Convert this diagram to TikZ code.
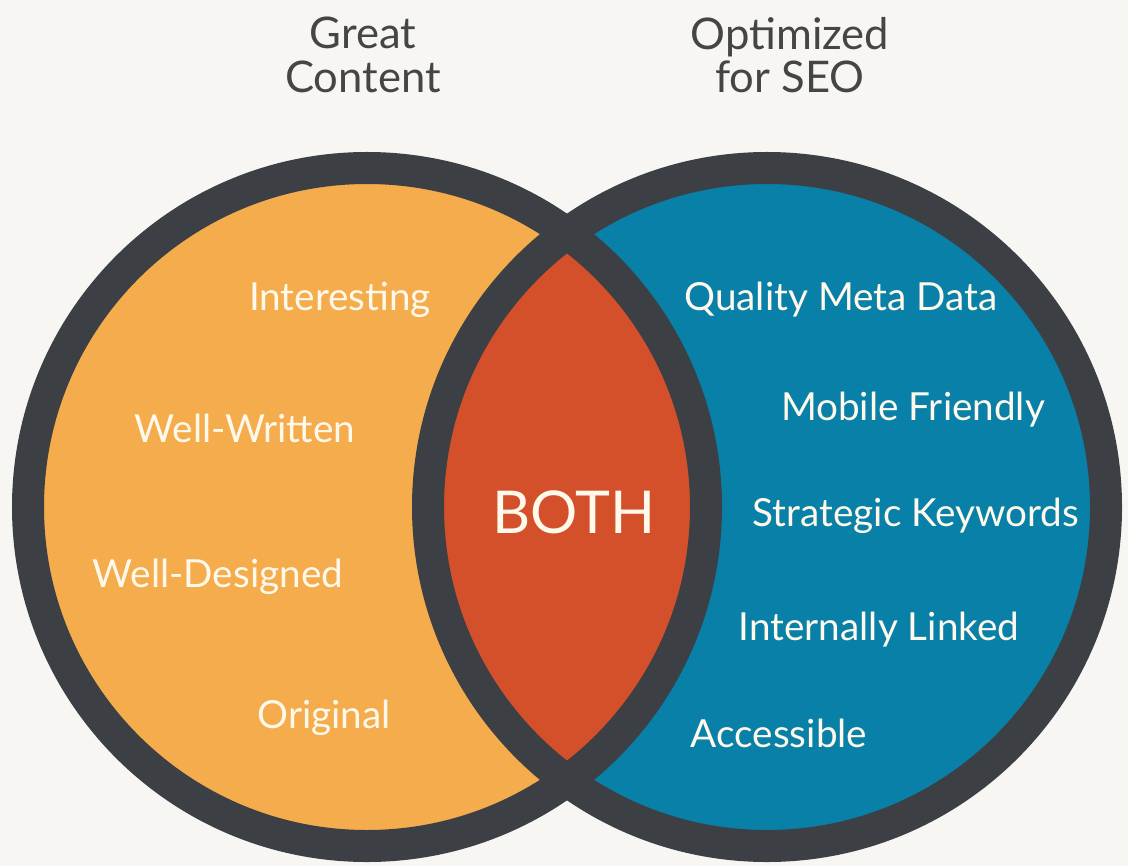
\documentclass[tikz,border=0pt]{standalone}
\usepackage{fontspec}
\setmainfont{Lato}
\definecolor{paperbg}{HTML}{F7F6F2}
\definecolor{ringgray}{HTML}{3C3F43}
\definecolor{contentorange}{HTML}{F4AC4C}
\definecolor{seoblue}{HTML}{0880A8}
\definecolor{bothred}{HTML}{D4502A}
\definecolor{headgray}{HTML}{454545}
\definecolor{itemwhite}{HTML}{FFF9EC}

\begin{document}
\begin{tikzpicture}[x=0.025cm, y=-0.025cm,
	ring/.style={draw=ringgray, line width=0.8cm},
	head/.style={text=headgray, align=center, font=\fontsize{31}{31}\selectfont},
	item/.style={text=itemwhite, font=\fontsize{27.5}{32}\selectfont}]
			%%%%% START %%%%%
			
			\fill[paperbg] (0, 0) rectangle (1128, 866);
			\useasboundingbox (0, 0) rectangle (1128, 866);
			
			\coordinate (left) at (367, 507);
			\coordinate (right) at (767, 507);
			
			\fill[contentorange] (left) circle (339);
			\fill[seoblue] (right) circle (339);
			\begin{scope}
				\clip (left) circle (339);
				\fill[bothred] (right) circle (339);
			\end{scope}
			
			\draw[ring] (left) circle (339);
			\draw[ring] (right) circle (339);
			
			\node[head] (great) at (363, 55) {Great\\Content};
			\node[head] (optimized) at (790, 55) {Optimized\\for SEO};
			
			\node[item] (interesting) at (340, 300) {Interesting};
			\node[item] (wellwritten) at (245, 428) {Well-Written};
			\node[item] (welldesigned) at (218, 577) {Well-Designed};
			\node[item] (original) at (324, 718) {Original};
			
			\node[item, font=\fontsize{42}{48}\selectfont] (both) at (574, 512) {BOTH};
			
			\node[item] (metadata) at (841, 300) {Quality Meta Data};
			\node[item] (mobile) at (913, 410) {Mobile Friendly};
			\node[item] (keywords) at (916, 516) {Strategic Keywords};
			\node[item] (linked) at (879, 630) {Internally Linked};
			\node[item] (accessible) at (779, 733) {Accessible};
			
			%%%%% END %%%%%
\end{tikzpicture}
\end{document}
